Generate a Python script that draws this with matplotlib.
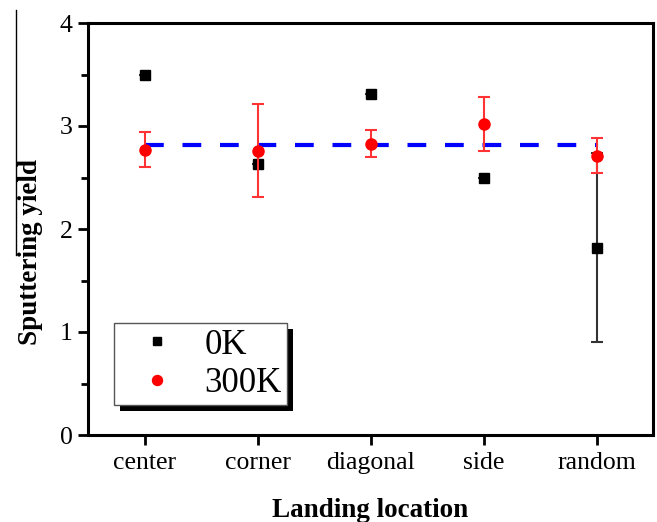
import matplotlib
matplotlib.use("Agg")
import matplotlib.pyplot as plt
from matplotlib.patches import Rectangle
from matplotlib.lines import Line2D
import numpy as np

categories = ["center", "corner", "diagonal", "side", "random"]
yield_0K = [3.50, 2.63, 3.31, 2.50, 1.82]
err_0K = [0.0, 0.0, 0.0, 0.0, 0.92]
yield_300K = [2.77, 2.76, 2.83, 3.02, 2.71]
err_300K = [0.17, 0.45, 0.13, 0.26, 0.17]
mean_300K = 2.82
y_ticks = [0, 1, 2, 3, 4]

plt.rcParams['font.family'] = ['Liberation Serif', 'DejaVu Serif']

fig = plt.figure(figsize=(6.57, 5.22), dpi=100)
ax = fig.add_axes([88/657, 1-435/522, (653-88)/657, (435-23)/522])

x = np.arange(len(categories))

ax.plot([x[0], x[-1]], [mean_300K, mean_300K], color=(0, 0, 1), lw=3,
        dashes=(4.5, 4.5), zorder=2)

ax.errorbar(x, yield_0K, yerr=err_0K, fmt='s', color='black', ms=6.5,
            ecolor='#333333', elinewidth=1.5, capsize=4, capthick=1.5,
            label='0K', zorder=3)
ax.errorbar(x, yield_300K, yerr=err_300K, fmt='o', color=(1, 0, 0), ms=8,
            ecolor=(1, 0.2, 0.2), elinewidth=1.5, capsize=4.5, capthick=1.5,
            label='300K', zorder=4)

ax.set_xlim(-0.5, 4.5)
ax.set_ylim(0, 4)
ax.set_xticks(x)
ax.set_xticklabels(categories, fontsize=18.5)
ax.set_yticks(y_ticks)
ax.set_yticklabels([str(v) for v in y_ticks], fontsize=18.5)
ax.set_yticks(np.arange(0.5, 4, 1.0), minor=True)
ax.tick_params(axis='both', which='major', direction='out', length=7, width=2)
ax.tick_params(axis='y', which='minor', direction='out', length=5, width=2)
ax.tick_params(axis='x', which='major', pad=5)
ax.tick_params(axis='y', which='major', pad=4)
for s in ax.spines.values():
    s.set_linewidth(2.2)

ax.set_xlabel("Landing location", fontsize=19.5, fontweight='bold')
ax.set_ylabel("Sputtering yield", fontsize=19.5, fontweight='bold')
ax.xaxis.set_label_coords(0.5, -0.152)
ax.yaxis.set_label_coords(-0.08, (435-252)/412)

handles, labels = ax.get_legend_handles_labels()
handles = [h[0] for h in handles]
leg = ax.legend(handles, labels, loc='lower left', bbox_to_anchor=(0.046, 0.073),
                borderaxespad=0, fontsize=25, fancybox=False, frameon=True,
                framealpha=1, facecolor='white',
                edgecolor='#555555', handlelength=2.2, handletextpad=0.25,
                borderpad=0.15, labelspacing=0.15, markerscale=0.9)
leg.get_frame().set_linewidth(1.0)
leg.set_zorder(10)

fig.canvas.draw()
bb = leg.get_window_extent()
shadow = Rectangle((bb.x0 + 6, bb.y0 - 6), bb.width, bb.height, transform=None,
                   facecolor='black', edgecolor='none', zorder=9)
ax.add_artist(shadow)

fig.add_artist(Line2D([16/657, 16/657], [1-10/522, 1-255/522],
                      transform=fig.transFigure, color='black', lw=1))

fig.savefig("out.png", dpi=100)
